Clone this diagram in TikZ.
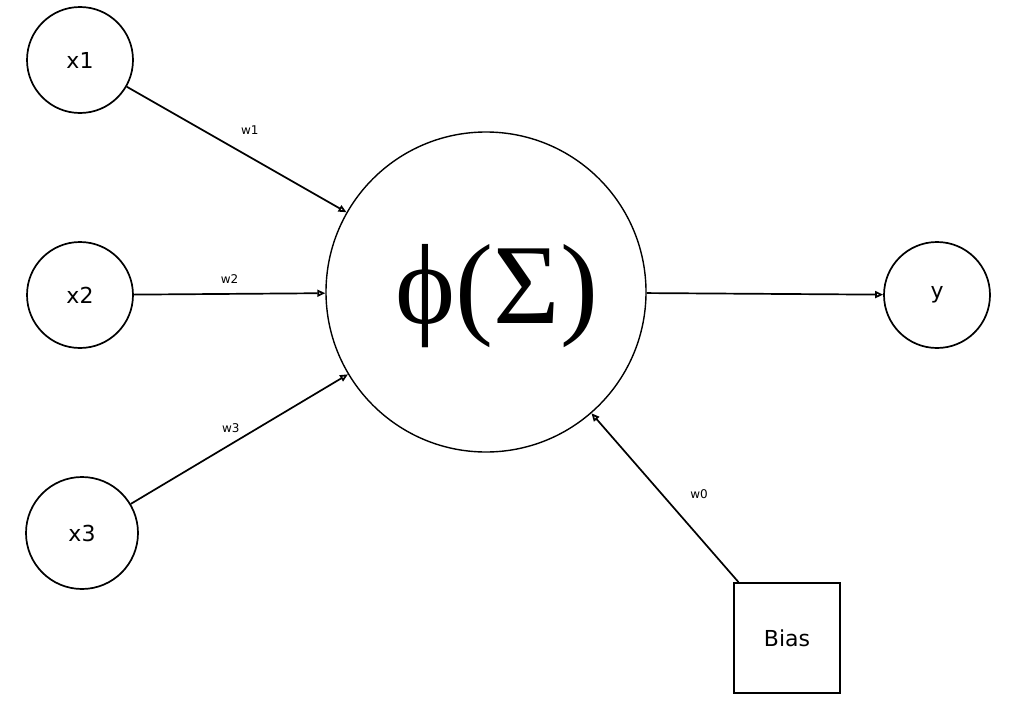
\documentclass[tikz,border=0pt]{standalone}
\usepackage{fontspec}
\setmainfont{DejaVu Sans}
\newfontfamily\timesfont{Liberation Serif}
\usetikzlibrary{arrows.meta}

\begin{document}
\begin{tikzpicture}[x=1pt, y=-1pt, line width=1.7pt,
        unit/.style={circle, draw, inner sep=0pt, minimum size=#1, font=\fontsize{22}{26}\selectfont},
        biasbox/.style={rectangle, draw, inner sep=0pt, minimum width=106pt, minimum height=110pt, font=\fontsize{22}{26}\selectfont},
        weight/.style={-{Triangle[open, length=8pt, width=7pt]}},
        wlabel/.style={font=\fontsize{12}{14}\selectfont, inner sep=1pt}]
        \useasboundingbox (0,0) rectangle (1009,704);

        % inputs
        \node[unit=106pt] (x1) at (80,60) {x1};
        \node[unit=106pt] (x2) at (80,295) {x2};
        \node[unit=112pt] (x3) at (82,533) {x3};

        % neuron, output and bias
        \node[unit=320pt, line width=1.4pt] (sum) at (486,292) {};
        \node[font=\timesfont\fontsize{114}{118}\selectfont, inner sep=0pt] (phi) at (497,296) {ϕ(Σ)};
        \node[unit=106pt] (y) at (937,295) {y};
        \node[biasbox] (bias) at (787,638) {Bias};

        \draw[weight] (x1) -- (sum) node [wlabel, pos=0.56, yshift=27pt] (w1) {w1};
        \draw[weight] (x2) -- (sum) node [wlabel, pos=0.5, yshift=15pt] (w2) {w2};
        \draw[weight] (x3) -- (sum) node [wlabel, pos=0.46, yshift=16pt] (w3) {w3};
        \draw[weight] (bias) -- (sum) node [wlabel, pos=0.52, xshift=37pt] (w0) {w0};
        \draw[weight] (sum) -- (y);
\end{tikzpicture}
\end{document}
